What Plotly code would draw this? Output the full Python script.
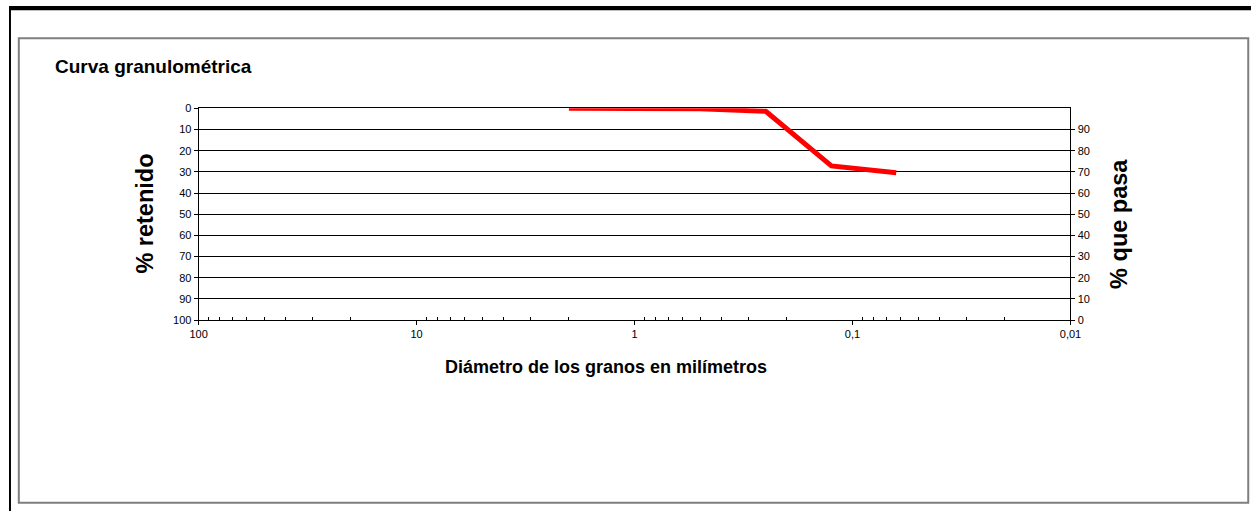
import plotly.graph_objects as go

# Sieve sizes (mm) and cumulative percentage retained
diametro_mm = [2, 1, 0.5, 0.25, 0.125, 0.063]
retenido_pct = [0, 0, 0.2, 1.4, 27.2, 30.4]
que_pasa_pct = [100 - v for v in retenido_pct]

x_major_vals = [100, 10, 1, 0.1, 0.01]
x_major_text = ["100", "10", "1", "0,1", "0,01"]
y_left_ticks = list(range(0, 101, 10))
y_right_ticks = list(range(0, 91, 10))

W, H = 1262, 517
BODY = 8                       # default html body margin
SX, OX = 0.9854, 0.3           # screen = SX * page + OX
SY, OY = 0.976, -2.1           # screen = SY * page + OY
FONT = "Liberation Sans, Arial, sans-serif"


def px(x):
    """screen column -> paper fraction"""
    return ((x - OX) / SX - BODY) / W


def py(y):
    """screen row -> paper fraction"""
    return 1 - ((y - OY) / SY - BODY) / H


# plot area in screen pixels
PL, PR, PT, PB = 198, 1071, 108, 319.5

minor_vals = [k * 10 ** e for e in (-2, -1, 0, 1) for k in range(2, 10)]

fig = go.Figure()
fig.add_trace(go.Scatter(
    x=diametro_mm, y=retenido_pct, mode="lines",
    line=dict(color="#ff0000", width=5),
    showlegend=False, hoverinfo="x+y",
))
fig.add_trace(go.Scatter(
    x=diametro_mm, y=que_pasa_pct, mode="lines", yaxis="y2",
    line=dict(color="rgba(0,0,0,0)", width=0),
    showlegend=False, hoverinfo="skip",
))

fig.update_layout(
    width=W, height=H,
    margin=dict(l=0, r=0, t=0, b=0),
    paper_bgcolor="white", plot_bgcolor="white",
    separators=",.",
    font=dict(family=FONT, size=11, color="black"),
    xaxis=dict(
        type="log", range=[2, -2], domain=[px(PL), px(PR)],
        tickmode="array", tickvals=x_major_vals, ticktext=x_major_text,
        ticks="outside", ticklen=4, tickcolor="black",
        showline=True, linecolor="black", linewidth=1, mirror=True,
        showgrid=False, zeroline=False,
        minor=dict(tickmode="array", tickvals=minor_vals, ticks="inside",
                   ticklen=3, tickcolor="black", showgrid=False),
        tickfont=dict(size=11, color="black"),
    ),
    yaxis=dict(
        range=[100, 0], domain=[py(PB), py(PT)],
        tickmode="array", tickvals=y_left_ticks,
        ticks="outside", ticklen=4, tickcolor="black",
        showline=True, linecolor="black", linewidth=1,
        showgrid=True, gridcolor="black", gridwidth=1,
        zeroline=False, tickfont=dict(size=11, color="black"),
    ),
    yaxis2=dict(
        range=[0, 100], overlaying="y", side="right", anchor="x",
        tickmode="array", tickvals=y_right_ticks,
        ticks="outside", ticklen=4, tickcolor="black",
        showline=True, linecolor="black", linewidth=1,
        showgrid=False, zeroline=False, tickfont=dict(size=11, color="black"),
    ),
)

# Page frame (top and left rules) and chart border
fig.add_shape(type="rect", xref="paper", yref="paper",
              x0=0, x1=1, y0=py(10), y1=1,
              fillcolor="black", line=dict(width=0))
fig.add_shape(type="rect", xref="paper", yref="paper",
              x0=0, x1=2 / W, y0=0, y1=1,
              fillcolor="black", line=dict(width=0))
fig.add_shape(type="rect", xref="paper", yref="paper",
              x0=px(18), x1=px(1249), y0=py(502), y1=py(38),
              line=dict(color="#7f7f7f", width=2))

fig.add_annotation(text="<b>Curva granulométrica</b>", xref="paper", yref="paper",
                   x=px(52), y=py(66), xanchor="left", yanchor="middle",
                   showarrow=False, font=dict(size=19, family=FONT))
fig.add_annotation(text="<b>% retenido</b>", xref="paper", yref="paper",
                   x=px(144), y=py(213.5), textangle=-90,
                   xanchor="center", yanchor="middle",
                   showarrow=False, font=dict(size=23.5, family=FONT))
fig.add_annotation(text="<b>% que pasa</b>", xref="paper", yref="paper",
                   x=px(1120), y=py(223), textangle=-90,
                   xanchor="center", yanchor="middle",
                   showarrow=False, font=dict(size=23.5, family=FONT))
fig.add_annotation(text="<b>Diámetro de los granos en milímetros</b>",
                   xref="paper", yref="paper",
                   x=px(606), y=py(366), xanchor="center", yanchor="middle",
                   showarrow=False, font=dict(size=18, family=FONT))

fig.write_html("out.html")
